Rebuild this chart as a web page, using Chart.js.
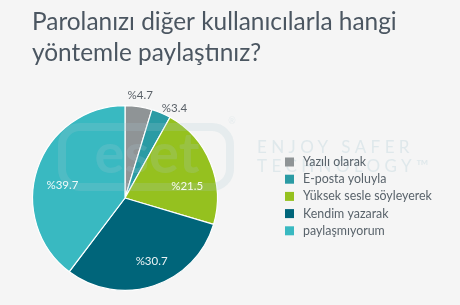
<!DOCTYPE html>
<html>
<head>
<meta charset="utf-8">
<script src="https://cdn.jsdelivr.net/npm/chart.js@4.4.0/dist/chart.umd.min.js"></script>
<style>
html,body{margin:0;padding:0;background:#f5f5f5;}
#wrap{width:460px;height:305px;position:relative;}
</style>
</head>
<body>
<div id="wrap"><canvas id="c" width="460" height="305"></canvas></div>
<script>
const titleLines = ["Parolanızı diğer kullanıcılarla hangi", "yöntemle paylaştınız?"];
const categories = ["Yazılı olarak", "E-posta yoluyla", "Yüksek sesle söyleyerek", "Kendim yazarak", "paylaşmıyorum"];
const values = [4.7, 3.4, 21.5, 30.7, 39.7];
const colors = ["#8f9496", "#2a9ba4", "#95c11f", "#00657a", "#39b9c1"];
const watermarkLines = ["ENJOY SAFER", "TECHNOLOGY™"];
// label nudges (style, px) per slice
const labelNudge = [[0, 0], [9, 5], [4, 12], [7, 4], [-3, 7]];

const FONT = "Lato, 'Open Sans', sans-serif";

const decor = {
  id: 'decor',
  beforeDraw(chart) {
    const ctx = chart.ctx;
    ctx.save();
    ctx.fillStyle = '#f5f5f5';
    ctx.fillRect(0, 0, chart.width, chart.height);
    // title
    ctx.fillStyle = '#4b5661';
    ctx.textBaseline = 'alphabetic';
    ctx.textAlign = 'left';
    let fs = 22;
    ctx.font = fs + 'px ' + FONT;
    const w = ctx.measureText(titleLines[0]).width;
    fs = fs * 365 / w;
    ctx.font = fs + 'px ' + FONT;
    ctx.fillText(titleLines[0], 32, 30);
    ctx.fillText(titleLines[1], 32, 61);
    // watermark text
    ctx.fillStyle = '#dfe8eb';
    ctx.font = '17px ' + FONT;
    try { ctx.letterSpacing = '4.4px'; } catch(e) {}
    ctx.fillText(watermarkLines[0], 257, 153);
    ctx.fillText(watermarkLines[1], 257, 172);
    try { ctx.letterSpacing = '0px'; } catch(e) {}
    ctx.restore();
  },
  afterDatasetsDraw(chart) {
    const ctx = chart.ctx;
    const meta = chart.getDatasetMeta(0);
    ctx.save();
    // faint logo watermark
    ctx.fillStyle = 'rgba(170,200,210,0.2)';
    ctx.strokeStyle = 'rgba(170,200,210,0.2)';
    ctx.lineWidth = 8;
    ctx.beginPath();
    ctx.roundRect(62, 127, 168, 60, 18);
    ctx.stroke();
    ctx.font = 'bold 56px ' + FONT;
    ctx.textAlign = 'center';
    ctx.textBaseline = 'alphabetic';
    ctx.fillText('eset', 147, 173);
    ctx.font = '9px ' + FONT;
    ctx.fillText('®', 232, 124);
    // value labels
    ctx.font = '11.5px ' + FONT;
    ctx.textBaseline = 'middle';
    meta.data.forEach((arc, i) => {
      const p = arc.getProps(['x','y','startAngle','endAngle','outerRadius'], true);
      const mid = (p.startAngle + p.endAngle) / 2;
      const txt = '%' + values[i];
      let r, col;
      if (values[i] < 10) { r = p.outerRadius + 11; col = '#5a6168'; }
      else { r = p.outerRadius * 0.68; col = 'rgba(255,255,255,0.92)'; }
      ctx.fillStyle = col;
      ctx.fillText(txt, p.x + Math.cos(mid) * r + labelNudge[i][0], p.y + Math.sin(mid) * r + labelNudge[i][1]);
    });
    // legend
    ctx.textAlign = 'left';
    ctx.font = '12.4px ' + FONT;
    categories.forEach((c, i) => {
      const y = 162 + i * 17.2;
      ctx.fillStyle = colors[i];
      ctx.fillRect(285, y - 4.5, 9, 9);
      ctx.fillStyle = '#59636b';
      ctx.fillText(c, 303, y);
    });
    ctx.restore();
  }
};

new Chart(document.getElementById('c'), {
  type: 'pie',
  data: {
    labels: categories,
    datasets: [{
      data: values,
      backgroundColor: colors,
      borderColor: '#ffffff',
      borderWidth: 1.2
    }]
  },
  options: {
    responsive: false,
    animation: false,
    layout: { padding: { left: 32, top: 105, right: 242, bottom: 14 } },
    plugins: { legend: { display: false }, tooltip: { enabled: false }, title: { display: false } }
  },
  plugins: [decor]
});
</script>
</body>
</html>
